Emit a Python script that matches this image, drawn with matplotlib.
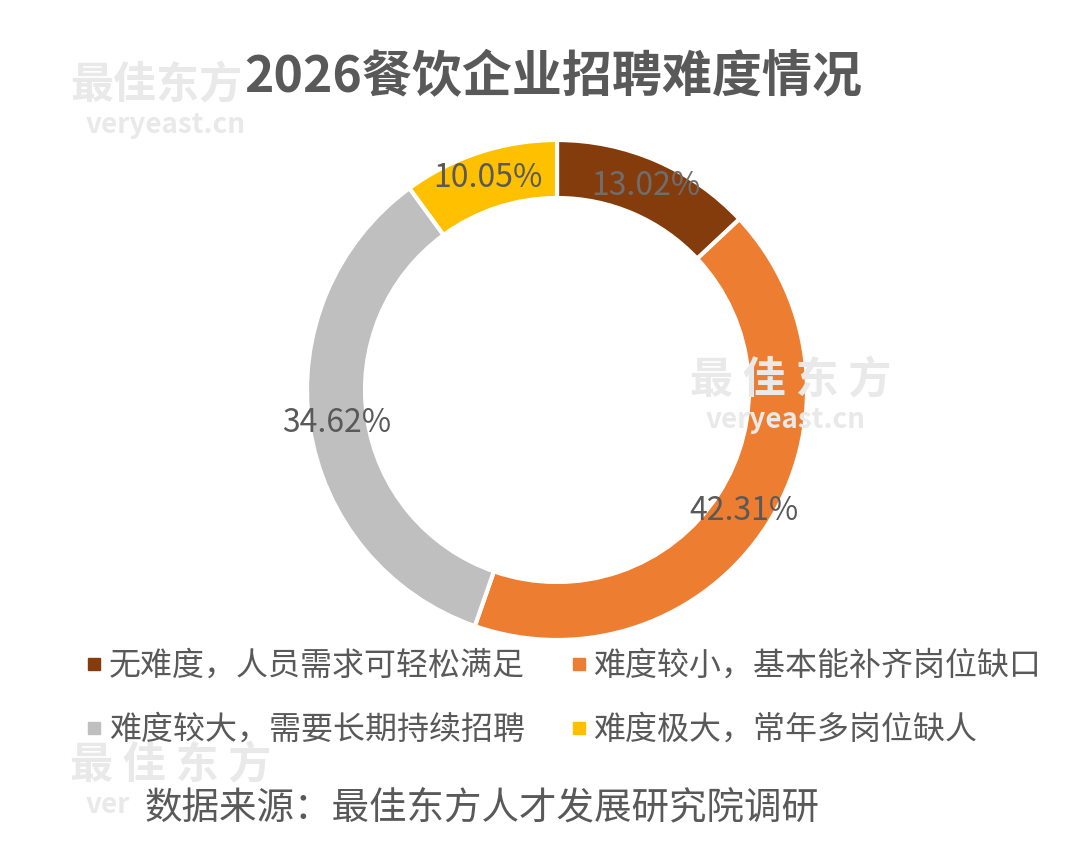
import matplotlib.pyplot as plt
from matplotlib.lines import Line2D

plt.rcParams['font.family'] = ['Noto Sans CJK SC', 'DejaVu Sans']

# share of restaurant firms by hiring difficulty (%)
categories = ['无难度，人员需求可轻松满足', '难度较小，基本能补齐岗位缺口',
              '难度较大，需要长期持续招聘', '难度极大，常年多岗位缺人']
shares = [13.02, 42.31, 34.62, 10.05]
colors = ['#843C0C', '#ED7D31', '#BFBFBF', '#FFC000']

title = '2026餐饮企业招聘难度情况'
source = '数据来源：最佳东方人才发展研究院调研'

W, H = 1080, 847
fig = plt.figure(figsize=(W / 100, H / 100), dpi=100)
fig.patch.set_facecolor('white')

# faint watermarks (the bottom one is mostly hidden by the source line)
wm = '#e9e9e9'
for x, y, brand, url in [(70, 85, '最佳东方', 'veryeast.cn'),
                         (690, 380, '最 佳 东 方', 'veryeast.cn'),
                         (70, 765, '最 佳 东 方', 'ver')]:
    fig.text(x / W, 1 - y / H, brand, fontsize=31, fontweight='bold',
             color=wm, va='center', ha='left', zorder=0)
    fig.text((x + 16) / W, 1 - (y + 40) / H, url, fontsize=20,
             fontweight='bold', color=wm, va='center', ha='left', zorder=0)

# donut: centre (557, 390) px, radius 250 px
cx, cy, r = 557, 390, 250
ax = fig.add_axes([(cx - r) / W, 1 - (cy + r) / H, 2 * r / W, 2 * r / H])
ax.patch.set_alpha(0)
wedges, texts, autotexts = ax.pie(
    shares, colors=colors, startangle=90, counterclock=False,
    autopct='%.2f%%', pctdistance=0.89,
    wedgeprops=dict(width=0.232, edgecolor='white', linewidth=3),
    textprops=dict(fontsize=23, color='#595959'))
autotexts[0].set_color('#6e6e6e')
ax.set_xlim(-1, 1)
ax.set_ylim(-1, 1)
ax.set_aspect('equal')

fig.text(553 / W, 1 - 78 / H, title, fontsize=36, fontweight='bold',
         color='#595959', ha='center', va='center')

handles = [Line2D([], [], ls='none', marker='s', markersize=8, color=c) for c in colors]
order = [0, 2, 1, 3]
fig.legend([handles[i] for i in order], [categories[i] for i in order],
           ncol=2, loc='center left', bbox_to_anchor=(56 / W, 1 - 698 / H),
           frameon=False, fontsize=23, labelcolor='#595959',
           handlelength=0.6, handletextpad=0.15, columnspacing=1.4,
           labelspacing=1.0)

fig.text(145 / W, 1 - 808 / H, source, fontsize=27, color='#595959',
         ha='left', va='center')

fig.savefig('out.png', dpi=100)
